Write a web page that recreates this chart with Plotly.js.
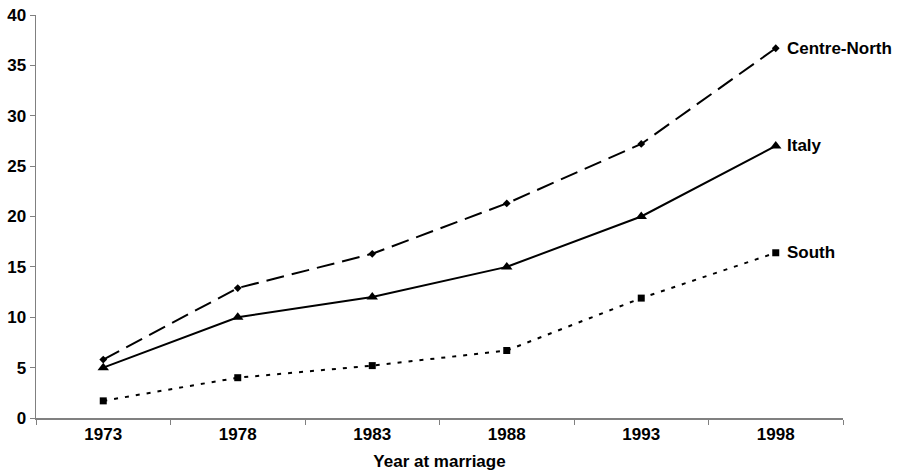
<!DOCTYPE html>
<html>
<head>
<meta charset="utf-8">
<script src="https://cdn.plot.ly/plotly-3.0.1.min.js"></script>
<style>html,body{margin:0;padding:0;background:#fff;}#chart{width:900px;height:475px;}</style>
</head>
<body>
<div id="chart"></div>
<script>
const years = ["1973", "1978", "1983", "1988", "1993", "1998"];
const centreNorth = [5.8, 12.9, 16.3, 21.3, 27.2, 36.7];
const italy = [5.0, 10.0, 12.0, 15.0, 20.0, 27.0];
const south = [1.7, 4.0, 5.2, 6.7, 11.9, 16.4];
const seriesNames = ["Centre-North", "Italy", "South"];
const yTicks = [0, 5, 10, 15, 20, 25, 30, 35, 40];

const fontFam = "Liberation Sans, Arial, sans-serif";
const fs = 17;
const traces = [
  {x: years, y: centreNorth, name: seriesNames[0], mode: "lines+markers",
   line: {color: "#000", width: 2, dash: "18px,8px"},
   marker: {symbol: "diamond", size: 6, color: "#000"}},
  {x: years, y: italy, name: seriesNames[1], mode: "lines+markers",
   line: {color: "#000", width: 2},
   marker: {symbol: "triangle-up", size: 10, color: "#000"}},
  {x: years, y: south, name: seriesNames[2], mode: "lines+markers",
   line: {color: "#000", width: 2, dash: "4px,7px"},
   marker: {symbol: "square", size: 7, color: "#000"}}
];
const allSeries = [centreNorth, italy, south];
const annotations = seriesNames.map((n, i) => ({
  xref: "x", yref: "y",
  x: years.length - 1, y: allSeries[i][allSeries[i].length - 1],
  text: "<b>" + n + "</b>", showarrow: false, xanchor: "left", yanchor: "middle",
  xshift: 9, font: {family: fontFam, size: fs, color: "#000"}
}));

const layout = {
  width: 900, height: 475,
  margin: {l: 36, r: 57, t: 15, b: 57},
  paper_bgcolor: "#fff", plot_bgcolor: "#fff",
  showlegend: false,
  font: {family: fontFam, size: fs, color: "#000"},
  xaxis: {
    type: "category", range: [-0.5, 5.5],
    tickvals: years, ticktext: years.map(y => "<b>" + y + "</b>"),
    showline: true, linecolor: "#808080", linewidth: 1.5,
    ticks: "outside", tickson: "boundaries", ticklen: 5, tickcolor: "#808080",
    showgrid: false, zeroline: false,
    tickfont: {family: fontFam, size: fs, color: "#000"},
    title: {text: "<b>Year at marriage</b>", font: {family: fontFam, size: fs, color: "#000"}, standoff: 12}
  },
  yaxis: {
    range: [0, 40], tickvals: yTicks, ticktext: yTicks.map(v => "<b>" + v + "</b>"),
    showline: true, linecolor: "#808080", linewidth: 1.5,
    ticks: "outside", ticklen: 5, tickcolor: "#808080",
    showgrid: false, zeroline: false,
    tickfont: {family: fontFam, size: fs, color: "#000"}
  },
  annotations: annotations
};
Plotly.newPlot("chart", traces, layout, {staticPlot: true, displayModeBar: false});
</script>
</body>
</html>
